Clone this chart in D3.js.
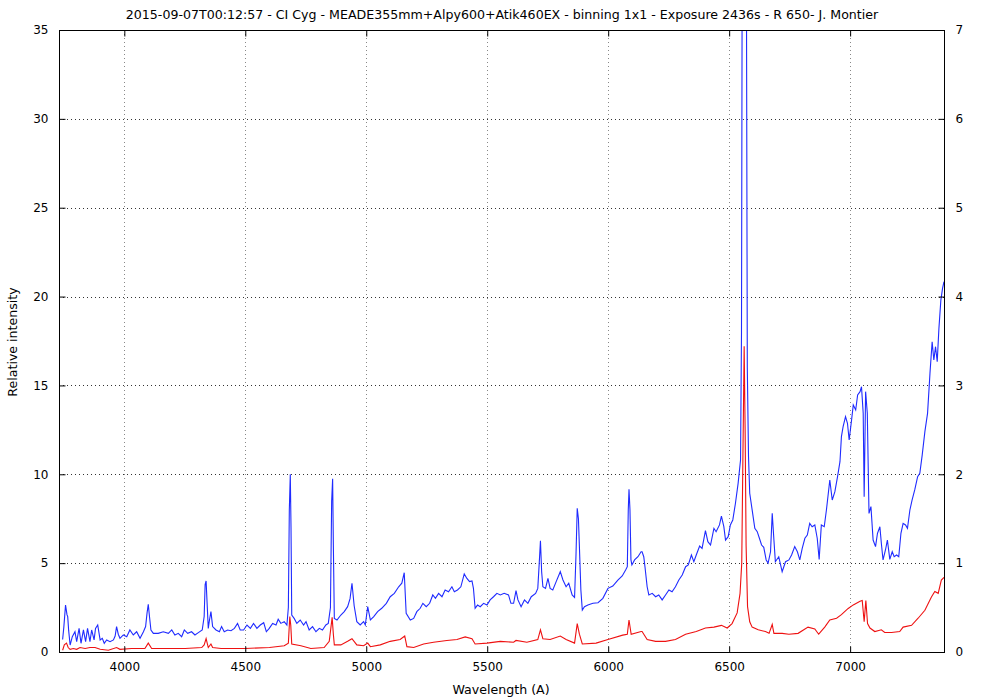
<!DOCTYPE html>
<html><head><meta charset="utf-8">
<script src="https://cdn.jsdelivr.net/npm/d3@7"></script>
<style>body{margin:0;background:#fff}svg{display:block}text{font-family:"DejaVu Sans",Verdana,sans-serif;fill:#000}</style>
</head><body><svg id="c" width="1000" height="700"></svg>
<script>
const title = "2015-09-07T00:12:57 - CI Cyg - MEADE355mm+Alpy600+Atik460EX - binning 1x1 - Exposure 2436s - R 650- J. Montier";
const xTicks = [4000,4500,5000,5500,6000,6500,7000];
const yTicks = [0,5,10,15,20,25,30,35];
const y2Ticks = [0,1,2,3,4,5,6,7];

const blueWave = [3745,3750,3757,3763,3766,3770,3776,3785,3796,3803,3813,3821,3831,3840,3848,3858,3865,3875,3881,3890,3900,3909,3917,3927,3941,3955,3962,3968,3975,3982,3996,4010,4023,4037,4051,4065,4079,4088,4094,4099,4104,4110,4120,4140,4161,4182,4196,4209,4223,4237,4248,4262,4278,4292,4306,4322,4330,4334,4338,4342,4347,4352,4358,4365,4379,4393,4402,4413,4427,4441,4455,4468,4479,4493,4507,4521,4534,4548,4562,4576,4587,4599,4613,4627,4636,4647,4661,4672,4678,4682,4686,4689,4692,4702,4713,4727,4741,4751,4764,4778,4792,4806,4819,4833,4843,4852,4857,4861,4864,4868,4879,4895,4909,4923,4933,4941,4950,4961,4975,4989,4996,5006,5017,5031,5047,5064,5083,5099,5116,5134,5147,5157,5165,5182,5196,5209,5223,5234,5248,5262,5275,5286,5299,5313,5326,5340,5354,5364,5377,5391,5405,5416,5427,5437,5443,5450,5460,5471,5485,5499,5512,5526,5540,5554,5570,5588,5598,5609,5619,5627,5640,5654,5668,5682,5700,5709,5715,5720,5725,5730,5741,5751,5760,5771,5785,5802,5813,5826,5837,5851,5861,5867,5872,5877,5881,5887,5893,5902,5916,5937,5958,5978,5999,6019,6040,6058,6072,6079,6083,6086,6090,6094,6098,6109,6123,6136,6140,6147,6152,6161,6168,6182,6196,6209,6223,6237,6251,6264,6278,6292,6306,6320,6331,6344,6354,6364,6378,6388,6402,6412,6423,6437,6446,6460,6468,6478,6485,6496,6505,6515,6526,6537,6547,6551,6554,6563,6571,6575,6580,6585,6595,6606,6616,6625,6634,6643,6653,6661,6671,6678,6685,6691,6705,6719,6733,6747,6758,6771,6782,6792,6802,6813,6823,6833,6843,6854,6864,6872,6881,6893,6902,6916,6926,6937,6948,6958,6964,6971,6981,6989,6996,7006,7013,7023,7031,7041,7047,7054,7058,7064,7071,7078,7086,7095,7105,7113,7123,7129,7136,7146,7154,7164,7174,7182,7192,7201,7210,7219,7229,7237,7247,7256,7267,7279,7288,7298,7309,7320,7330,7339,7346,7353,7360,7367,7375,7382,7388];
const blueFlux = [0.7,1.4,2.64,2.1,1.99,1.2,0.39,0.86,1.14,0.58,1.33,0.49,1.24,0.58,1.33,0.58,1.24,0.68,1.33,1.52,0.68,0.77,0.49,0.68,0.58,0.68,0.9,1.43,1.0,0.77,0.96,0.86,1.24,0.96,1.14,0.77,1.14,1.43,2.2,2.68,2.0,1.24,1.05,1.05,1.14,1.05,1.24,0.96,1.05,0.86,1.24,1.05,1.14,0.96,1.09,1.24,2.0,3.8,4.0,2.8,1.33,1.8,2.27,1.43,1.24,1.14,1.43,1.14,1.24,1.2,1.33,1.61,1.24,1.24,1.52,1.33,1.61,1.33,1.52,1.65,1.14,1.33,1.61,1.52,1.84,1.61,1.71,1.52,2.5,8.0,10.0,7.0,2.08,1.89,1.61,1.8,1.52,1.71,1.24,1.43,1.14,1.33,1.24,1.52,1.61,2.5,8.5,9.75,6.0,1.89,1.8,2.08,2.27,2.55,3.0,3.87,2.6,1.71,1.52,1.71,1.52,2.55,1.8,1.99,2.27,2.46,2.74,3.11,3.3,3.67,3.87,4.46,2.18,1.8,1.89,2.27,2.46,2.74,2.55,2.74,3.21,3.02,3.3,3.11,3.49,3.39,3.67,3.39,3.49,3.67,4.39,4.14,3.96,4.0,3.58,2.46,2.64,2.55,2.74,2.64,2.93,3.11,3.3,3.21,3.3,3.21,2.74,2.74,3.45,2.93,2.55,2.93,2.74,3.11,3.3,3.58,5.0,6.26,4.5,3.67,3.58,4.14,3.58,3.49,3.96,4.52,4.05,3.67,3.87,3.21,3.07,5.5,8.09,7.5,5.93,3.5,2.36,2.55,2.64,2.74,2.77,3.02,3.58,3.71,4.05,4.28,4.61,4.8,8.0,9.15,8.0,5.2,4.9,5.18,5.36,5.64,5.64,5.36,4.8,3.67,3.21,3.3,3.11,3.21,2.93,3.21,3.49,3.39,3.67,4.05,4.33,4.8,4.9,5.46,5.08,5.46,5.96,5.83,6.83,6.21,6.02,6.96,6.77,7.15,7.65,7.05,6.3,6.49,7.15,7.43,8.37,9.49,10.8,18,40,60,40,16,11,8.93,8.0,6.96,6.77,6.4,6.02,5.89,5.18,5.0,5.64,7.8,6.3,5.08,5.36,4.52,5.08,5.18,5.46,5.93,5.64,5.18,5.83,6.4,6.58,7.24,7.05,7.15,6.4,5.21,7.15,7.05,7.99,9.68,8.55,9.02,9.87,10.71,12.12,12.68,13.24,12.87,11.93,13.06,13.9,13.62,14.46,14.65,14.93,13.43,8.74,14.65,13.43,7.8,8.18,6.3,5.93,6.68,7.05,6.12,5.18,5.74,6.3,5.21,5.64,5.36,5.46,5.36,6.68,7.24,7.15,6.96,7.99,8.55,9.12,9.87,10.06,11.09,12.4,13.43,15.68,17.46,16.43,17.18,16.34,18.21,19.8,20.46,20.84];

const redWave = [3745,3752,3761,3768,3776,3789,3803,3817,3838,3858,3879,3900,3934,3968,3982,4030,4085,4099,4113,4182,4251,4320,4330,4338,4347,4358,4365,4400,4500,4600,4661,4678,4684,4688,4692,4730,4771,4826,4847,4859,4864,4868,4895,4923,4941,4961,4989,5006,5017,5058,5099,5140,5159,5168,5196,5237,5278,5333,5375,5409,5437,5450,5499,5554,5609,5619,5664,5709,5720,5730,5760,5802,5826,5861,5872,5881,5893,5950,5999,6060,6079,6086,6095,6136,6140,6161,6196,6237,6278,6320,6364,6402,6437,6468,6492,6512,6533,6545,6552,6556,6562,6566,6570,6576,6585,6595,6620,6650,6665,6678,6685,6719,6747,6785,6826,6854,6870,6895,6916,6944,6964,6992,7013,7041,7050,7058,7065,7072,7082,7102,7129,7143,7171,7205,7219,7254,7281,7309,7336,7350,7364,7377,7388];
const redFlux = [0.02,0.08,0.1,0.05,0.03,0.04,0.03,0.05,0.04,0.05,0.05,0.03,0.02,0.05,0.03,0.04,0.04,0.1,0.04,0.04,0.04,0.05,0.08,0.15,0.05,0.09,0.05,0.04,0.04,0.05,0.07,0.1,0.4,0.3,0.09,0.07,0.04,0.05,0.12,0.39,0.2,0.08,0.08,0.12,0.15,0.08,0.07,0.1,0.06,0.08,0.12,0.14,0.18,0.06,0.05,0.09,0.11,0.13,0.14,0.17,0.15,0.09,0.1,0.12,0.11,0.13,0.11,0.14,0.25,0.15,0.14,0.18,0.14,0.1,0.32,0.2,0.09,0.1,0.14,0.19,0.2,0.36,0.2,0.23,0.23,0.14,0.12,0.12,0.14,0.2,0.23,0.27,0.28,0.3,0.27,0.32,0.44,0.66,1.0,2.0,3.44,2.5,1.2,0.51,0.34,0.28,0.25,0.23,0.21,0.31,0.21,0.21,0.2,0.21,0.28,0.26,0.2,0.28,0.36,0.38,0.42,0.49,0.53,0.57,0.58,0.34,0.58,0.32,0.27,0.23,0.25,0.22,0.22,0.23,0.28,0.3,0.38,0.47,0.62,0.68,0.66,0.81,0.84];

const L = 59, R = 944, T = 30, B = 652;
const svg = d3.select("#c");
const x = d3.scaleLinear().domain([3730, 7388]).range([L, R]);
const y = d3.scaleLinear().domain([0, 35]).range([B, T]);
const y2 = d3.scaleLinear().domain([0, 7]).range([B, T]);
const fmt = d3.format("d");

svg.append("defs").append("clipPath").attr("id","clip")
  .append("rect").attr("x",L).attr("y",T).attr("width",R-L).attr("height",B-T);

// grid
const g = svg.append("g");
g.selectAll(".vg").data(xTicks).join("line")
  .attr("x1",d=>Math.round(x(d))+0.5).attr("x2",d=>Math.round(x(d))+0.5).attr("y1",T).attr("y2",B)
  .attr("stroke","#888").attr("stroke-dasharray","1,3");
g.selectAll(".hg").data(yTicks.filter(d=>d>0&&d<35)).join("line")
  .attr("x1",L).attr("x2",R).attr("y1",d=>Math.round(y(d))+0.5).attr("y2",d=>Math.round(y(d))+0.5)
  .attr("stroke","#333").attr("stroke-dasharray","1,3");

// data lines
const lineB = d3.line().x((d,i)=>x(blueWave[i])).y(d=>y(d));
const lineR = d3.line().x((d,i)=>x(redWave[i])).y(d=>y2(d));
const pg = svg.append("g").attr("clip-path","url(#clip)");
pg.append("path").attr("d",lineB(blueFlux)).attr("fill","none").attr("stroke","#1f2bff").attr("stroke-width",1.1);
pg.append("path").attr("d",lineR(redFlux)).attr("fill","none").attr("stroke","#ee1111").attr("stroke-width",1.1);

// border
svg.append("rect").attr("x",L+0.5).attr("y",T+0.5).attr("width",R-L).attr("height",B-T)
  .attr("fill","none").attr("stroke","#000").attr("stroke-width",1);

// axes (inward ticks, mirrored)
const tk = 6;
svg.append("g").attr("transform",`translate(0,${B+0.5})`)
  .call(d3.axisBottom(x).tickValues(xTicks).tickFormat(fmt).tickSizeInner(-tk).tickSizeOuter(0).tickPadding(tk+4))
  .call(a=>a.select(".domain").remove());
svg.append("g").attr("transform",`translate(0,${T+0.5})`)
  .call(d3.axisTop(x).tickValues(xTicks).tickSizeInner(-tk).tickSizeOuter(0).tickFormat(""))
  .call(a=>a.select(".domain").remove());
svg.append("g").attr("transform",`translate(${L+0.5},0)`)
  .call(d3.axisLeft(y).tickValues(yTicks).tickFormat(fmt).tickSizeInner(-tk).tickSizeOuter(0).tickPadding(tk+5))
  .call(a=>a.select(".domain").remove());
svg.append("g").attr("transform",`translate(${R+0.5},0)`)
  .call(d3.axisRight(y2).tickValues(y2Ticks).tickFormat(fmt).tickSizeInner(-tk).tickSizeOuter(0).tickPadding(tk+5))
  .call(a=>a.select(".domain").remove());
svg.selectAll(".tick line").attr("stroke","#000");
svg.selectAll(".tick text").style("font-size","12px").style("font-family","DejaVu Sans, sans-serif").attr("fill","#000");

svg.append("text").attr("x",502).attr("y",19).attr("text-anchor","middle").style("font-size","12.6px").text(title);
svg.append("text").attr("x",501).attr("y",694).attr("text-anchor","middle").style("font-size","12.6px").text("Wavelength (A)");
svg.append("text").attr("transform","translate(17,342) rotate(-90)").attr("text-anchor","middle").style("font-size","12.6px").text("Relative intensity");
</script></body></html>
